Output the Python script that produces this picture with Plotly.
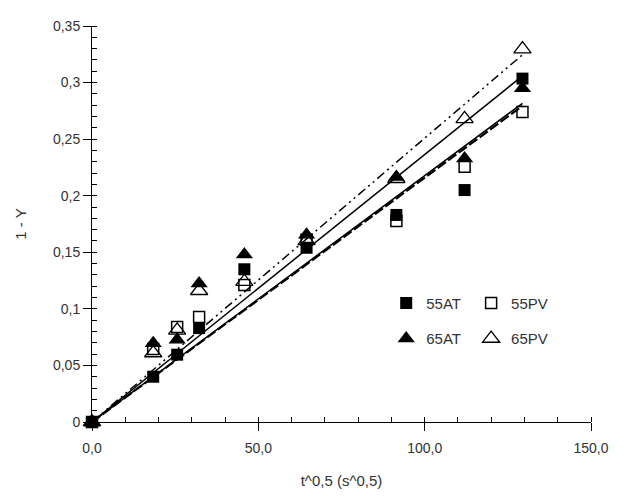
import numpy as np
import plotly.graph_objects as go

# data
x_vals = [0, 18.4, 25.6, 32.2, 45.8, 64.5, 91.5, 112.0, 129.4]
y_55AT = [0, 0.040, 0.0595, 0.083, 0.135, 0.154, 0.183, 0.205, 0.3035]
y_55PV = [0, 0.0645, 0.084, 0.0927, 0.121, 0.161, 0.1776, 0.2256, 0.274]
y_65AT = [0, 0.0696, 0.0728, 0.1224, 0.148, 0.1655, 0.2166, 0.233, 0.295]
y_65PV = [0, 0.061, 0.081, 0.116, 0.124, 0.160, 0.215, 0.268, 0.3295]

x_ticks = [0, 50, 100, 150]
x_tick_text = ["0,0", "50,0", "100,0", "150,0"]
y_ticks = [0, 0.05, 0.1, 0.15, 0.2, 0.25, 0.3, 0.35]
y_tick_text = ["0", "0,05", "0,1", "0,15", "0,2", "0,25", "0,3", "0,35"]

FONT = "Liberation Sans, Arial, sans-serif"
TXT = "#333333"

series = [
    ("55AT", y_55AT, "square", 12, None, dict(dash="solid", width=1.5), "legend", 1),
    ("55PV", y_55PV, "square-open", 11, 1.5, dict(dash="10px,3px", width=2.2), "legend2", 1),
    ("65AT", y_65AT, "triangle-up", 15, None, dict(dash="solid", width=1.5), "legend", 2),
    ("65PV", y_65PV, "triangle-up-open", 15, 1.3, dict(dash="9px,4px,2px,4px,2px,4px", width=1.5), "legend2", 2),
]

fig = go.Figure()
xa = np.array(x_vals)
# trend lines (least squares through origin), drawn first
for name, ys, sym, size, lw, line, lg, rank in series:
    ya = np.array(ys)
    slope = float((xa * ya).sum() / (xa * xa).sum())
    xe = float(xa.max())
    fig.add_trace(go.Scatter(
        x=[0, xe], y=[0, slope * xe], mode="lines",
        line=dict(color="black", **line), showlegend=False, hoverinfo="skip",
        cliponaxis=False))

for name, ys, sym, size, lw, line, lg, rank in series:
    mk = dict(symbol=sym, size=size, color="black")
    if lw:
        mk["line"] = dict(color="black", width=lw)
    fig.add_trace(go.Scatter(
        x=x_vals, y=ys, mode="markers", name=name, marker=mk,
        legend=lg, legendgroup=name, legendrank=rank, cliponaxis=False))

legend_common = dict(
    font=dict(family=FONT, size=15, color=TXT),
    bgcolor="rgba(0,0,0,0)", borderwidth=0,
    tracegroupgap=13, itemwidth=30,
    xanchor="left", yanchor="top", orientation="v",
)

# page body adds an 8px offset; margins compensate so the plot area sits
# where it does in the reference
L, R, T, B = 83.5, 60, 10, 82
PW = 643 - L - R
PH = 496 - T - B

fig.update_layout(
    width=643, height=496,
    margin=dict(l=L, r=R, t=T, b=B),
    paper_bgcolor="white", plot_bgcolor="white",
    font=dict(family=FONT, size=14, color=TXT),
    showlegend=True,
    legend=dict(x=(378 - L) / PW, y=(414 - 276) / PH, **legend_common),
    legend2=dict(x=(463 - L) / PW, y=(414 - 276) / PH, **legend_common),
    xaxis=dict(
        range=[0, 150], tickvals=x_ticks, ticktext=x_tick_text,
        showgrid=False, zeroline=False, showline=True, linecolor="black", linewidth=1,
        ticks="outside", ticklen=8, tickcolor="black", tickwidth=1,
        ticklabelstandoff=5,
        minor=dict(dtick=10, ticks="inside", ticklen=5, tickcolor="black", tickwidth=1, showgrid=False),
        tickfont=dict(family=FONT, size=14, color=TXT),
        title=dict(text="t^0,5 (s^0,5)", font=dict(family=FONT, size=15, color=TXT), standoff=20),
        fixedrange=True,
    ),
    yaxis=dict(
        range=[0, 0.35], tickvals=y_ticks, ticktext=y_tick_text,
        showgrid=False, zeroline=False, showline=True, linecolor="black", linewidth=1,
        ticks="outside", ticklen=8, tickcolor="black", tickwidth=1,
        minor=dict(dtick=0.01, ticks="inside", ticklen=5, tickcolor="black", tickwidth=1, showgrid=False),
        tickfont=dict(family=FONT, size=14, color=TXT),
        title=dict(text="1 - Y", font=dict(family=FONT, size=15, color=TXT), standoff=22),
        fixedrange=True,
    ),
)

fig.write_html("out.html")
